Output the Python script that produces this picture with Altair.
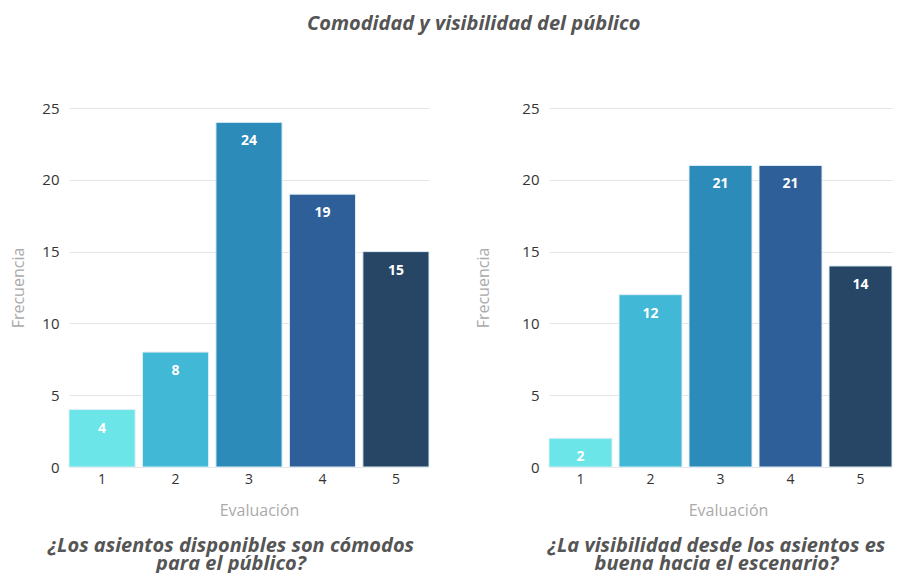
import altair as alt
import pandas as pd

categorias = ["1", "2", "3", "4", "5"]
comodidad = [4, 8, 24, 19, 15]
visibilidad = [2, 12, 21, 21, 14]
colores = ["#6CE5E8", "#41B8D5", "#2D8BBA", "#2F5F98", "#274666"]
titulo = "Comodidad y visibilidad del público"
sub_izq = ["¿Los asientos disponibles son cómodos", "para el público?"]
sub_der = ["¿La visibilidad desde los asientos es", "buena hacia el escenario?"]

TITLE_FONT = "Open Sans"
AXIS_FONT = "Open Sans"


def panel(values, subtitle, width, y_title_pad, x_title_x, sub_dx):
    df = pd.DataFrame({"Evaluación": categorias, "Frecuencia": values})
    base = alt.Chart(df)
    x = alt.X(
        "Evaluación:N",
        sort=categorias,
        scale=alt.Scale(paddingInner=0.1, paddingOuter=0),
        axis=alt.Axis(
            labelAngle=0, ticks=False, domain=False, labelPadding=5,
            labelFontSize=14, labelColor="#333333", labelFont=AXIS_FONT,
            title="Evaluación", titleFont=AXIS_FONT, titleFontSize=16,
            titleFontWeight="normal", titleColor="#AAAAAA", titlePadding=16,
            titleX=x_title_x,
        ),
    )
    y = alt.Y(
        "Frecuencia:Q",
        scale=alt.Scale(domain=[0, 25], nice=False),
        axis=alt.Axis(
            values=[0, 5, 10, 15, 20, 25], ticks=False, domain=False,
            labelPadding=10, labelFontSize=15, labelColor="#333333",
            labelFont=AXIS_FONT, gridColor="#E6E6E6",
            title="Frecuencia", titleFont=AXIS_FONT, titleFontSize=16,
            titleFontWeight="normal", titleColor="#AAAAAA",
            titlePadding=y_title_pad,
        ),
    )
    bars = base.mark_bar(stroke="#DDEEF5", strokeWidth=1).encode(
        x=x,
        y=y,
        color=alt.Color("Evaluación:N", scale=alt.Scale(domain=categorias, range=colores), legend=None),
    )
    labels = base.mark_text(
        color="white", fontWeight="bold", fontSize=14, font=AXIS_FONT,
        baseline="middle", dy=19,
    ).encode(x=x, y=y, text="Frecuencia:Q")
    return alt.layer(bars, labels).properties(
        width=width,
        height=359,
        title=alt.TitleParams(
            subtitle, orient="bottom", anchor="middle", frame="group",
            font=TITLE_FONT, fontSize=20, fontStyle="italic", fontWeight="bold",
            color="#555555", lineHeight=18, offset=18, dx=sub_dx,
        ),
    )


left = panel(comodidad, sub_izq, 360, 15, 190, -18)
right = panel(visibilidad, sub_der, 343, 30, 179, -4)

chart = alt.hconcat(left, right, spacing=45).properties(
    title=alt.TitleParams(
        titulo, anchor="middle", font=TITLE_FONT, fontSize=20,
        fontStyle="italic", fontWeight="bold", color="#555555", offset=67,
        dx=22,
    ),
    padding={"left": 2, "top": 6, "right": 0, "bottom": 0},
).configure_view(stroke=None)

chart.save("out.html", embed_options={"renderer": "svg", "actions": False})
